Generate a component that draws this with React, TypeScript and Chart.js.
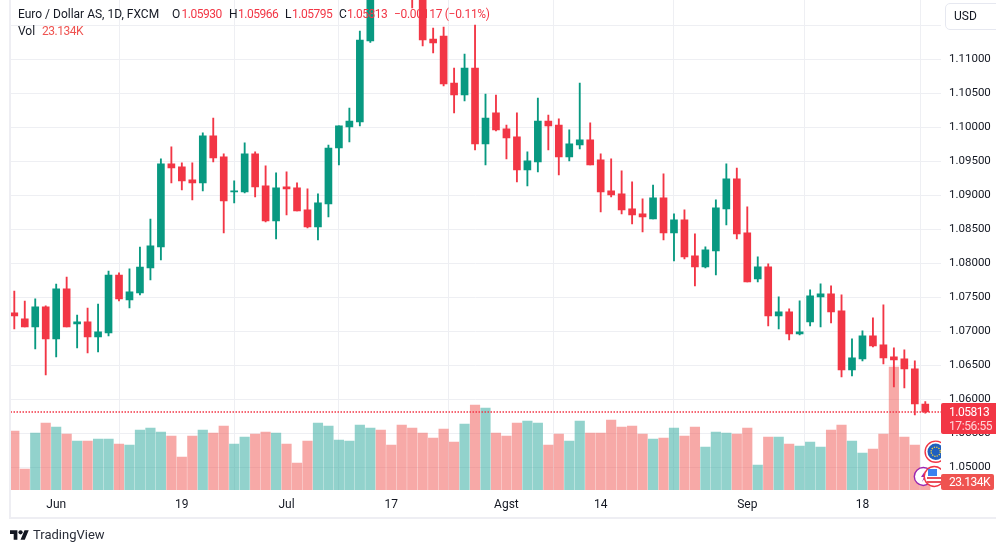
import { useEffect, useRef } from 'react';
import { Chart, registerables } from 'chart.js';

Chart.register(...registerables);

const UP = '#089981';
const DOWN = '#f23645';
const UP_VOL = 'rgba(38, 166, 154, 0.5)';
const DOWN_VOL = 'rgba(239, 83, 80, 0.5)';
const GRID = '#eeeff3';
const FRAME = '#eeeef3';
const TEXT = '#131722';
const FONT = 'Roboto, sans-serif';

// daily candles, Jun - Sep. the ones around index 35-38 are above the visible range
const opens = [
  1.0727, 1.07182, 1.07064, 1.07358, 1.06888, 1.07623, 1.07108, 1.07138, 1.06917, 1.06976,
  1.07828, 1.07461, 1.07564, 1.07931, 1.0824, 1.09461, 1.09417, 1.09226, 1.09182, 1.09873,
  1.09564, 1.0905, 1.0905, 1.09608, 1.09138, 1.08623, 1.09123, 1.09108, 1.08785, 1.08535,
  1.08873, 1.09696, 1.10005, 1.10079, 1.11269, 1.1228, 1.1226, 1.1224, 1.1205, 1.119,
  1.11299, 1.11343, 1.10652, 1.10475, 1.10872, 1.09755, 1.10211, 1.09976, 1.09858, 1.09373,
  1.09491, 1.10093, 1.10034, 1.09564, 1.0974, 1.09814, 1.0952, 1.09064, 1.0902, 1.088,
  1.08726, 1.08653, 1.08961, 1.08447, 1.08638, 1.08109, 1.07947, 1.08182, 1.088, 1.09241,
  1.08447, 1.07771, 1.07947, 1.07227, 1.07286, 1.06962, 1.07139, 1.07506, 1.0755, 1.073,
  1.06433, 1.06595, 1.06933, 1.068, 1.06624, 1.06595, 1.06448, 1.0593,
];
const highs = [
  1.07593, 1.07446, 1.07476, 1.07373, 1.07696, 1.07799, 1.0724, 1.07343, 1.07402, 1.07887,
  1.07858, 1.07917, 1.0824, 1.08652, 1.09535, 1.09711, 1.09476, 1.09476, 1.09917, 1.10137,
  1.09608, 1.09211, 1.0977, 1.09638, 1.09432, 1.09329, 1.09344, 1.09182, 1.09094, 1.0902,
  1.0974, 1.1002, 1.10284, 1.11416, 1.1245, 1.1245, 1.1244, 1.124, 1.1215, 1.12,
  1.1146, 1.11475, 1.10872, 1.11078, 1.11504, 1.1049, 1.10475, 1.10034, 1.10211, 1.09638,
  1.10431, 1.10181, 1.10123, 1.09961, 1.10652, 1.10064, 1.09608, 1.09535, 1.09358, 1.09197,
  1.08947, 1.09152, 1.09314, 1.08726, 1.08785, 1.08432, 1.08241, 1.08932, 1.09461, 1.09402,
  1.08829, 1.08094, 1.07991, 1.07506, 1.0733, 1.07447, 1.07609, 1.07697, 1.07668, 1.07535,
  1.06889, 1.07006, 1.07197, 1.07388, 1.06756, 1.06727, 1.06565, 1.05966,
];
const lows = [
  1.07035, 1.07064, 1.06741, 1.06358, 1.06623, 1.07064, 1.06755, 1.06682, 1.06697, 1.06932,
  1.07446, 1.07343, 1.07534, 1.07755, 1.08049, 1.09182, 1.09079, 1.08932, 1.09064, 1.09491,
  1.08447, 1.08888, 1.09035, 1.08976, 1.08609, 1.08359, 1.08711, 1.0877, 1.0852, 1.08344,
  1.08682, 1.09446, 1.09785, 1.1002, 1.1125, 1.1205, 1.121, 1.119, 1.11754, 1.11196,
  1.11093, 1.10608, 1.10211, 1.10387, 1.09667, 1.09446, 1.09946, 1.09535, 1.09197, 1.09138,
  1.09344, 1.09667, 1.09299, 1.09505, 1.09682, 1.09446, 1.08756, 1.08976, 1.08726, 1.08579,
  1.08462, 1.08653, 1.08344, 1.08035, 1.08065, 1.07668, 1.07932, 1.07829, 1.08564, 1.08359,
  1.07727, 1.07727, 1.0708, 1.07036, 1.06874, 1.06947, 1.0708, 1.07065, 1.07124, 1.0633,
  1.06345, 1.06565, 1.06771, 1.06521, 1.06183, 1.06168, 1.05771, 1.05795,
];
const closes = [
  1.07226, 1.07064, 1.07358, 1.06888, 1.07623, 1.07064, 1.07138, 1.06917, 1.06991, 1.07828,
  1.07476, 1.07579, 1.07946, 1.08255, 1.09461, 1.09402, 1.09211, 1.09182, 1.09873, 1.09549,
  1.08917, 1.09064, 1.09608, 1.09123, 1.08623, 1.09108, 1.09094, 1.0877, 1.08535, 1.08888,
  1.09696, 1.1002, 1.10093, 1.11284, 1.1228, 1.1225, 1.1223, 1.12, 1.119, 1.11284,
  1.1124, 1.10637, 1.10475, 1.10872, 1.09755, 1.10137, 1.09961, 1.09843, 1.09373, 1.09505,
  1.10093, 1.1002, 1.09564, 1.09755, 1.09814, 1.09446, 1.0905, 1.09005, 1.08785, 1.08711,
  1.08682, 1.08961, 1.08447, 1.08638, 1.08094, 1.07947, 1.08197, 1.08814, 1.09241, 1.08432,
  1.07727, 1.07947, 1.07227, 1.07286, 1.06962, 1.06992, 1.07521, 1.0755, 1.07286, 1.06433,
  1.06609, 1.06933, 1.06786, 1.06609, 1.0658, 1.06448, 1.05933, 1.05813,
];
// volume in thousands
const volumes = [
  170.6, 60.7, 164.8, 193.8, 182.2, 162, 141.7, 141.7, 147.5, 147.5,
  133, 130.1, 173.5, 179.3, 167.7, 156.2, 95.4, 156.2, 173.5, 164.8,
  185.1, 133, 153.3, 162, 167.7, 164.8, 133, 78.1, 141.7, 193.8,
  185.1, 144.6, 141.7, 188, 179.3, 173.5, 130.1, 188, 179.3, 164.8,
  150.4, 176.4, 138.8, 190.9, 245.8, 237.1, 164.8, 156.2, 193.8, 199.5,
  193.8, 130.1, 162, 141.7, 199.5, 164.8, 164.8, 202.4, 182.2, 185.1,
  162, 147.5, 150.4, 179.3, 156.2, 182.2, 124.4, 167.7, 164.8, 162,
  179.3, 72.3, 153.3, 153.3, 133, 127.2, 138.8, 124.4, 173.5, 188,
  141.7, 107, 118.6, 162, 355.7, 153.3, 130.1, 23.134,
];

const timeTicks = [4, 16, 26, 36, 47, 56, 70, 81];
const timeLabels = ['Jun', '19', 'Jul', '17', 'Agst', '14', 'Sep', '18'];
const priceTicks = [1.05, 1.055, 1.06, 1.065, 1.07, 1.075, 1.08, 1.085, 1.09, 1.095, 1.1, 1.105, 1.11, 1.115];
const lastPrice = 1.05813;

const X_MIN = -0.363;
const X_MAX = 88.5;

function Txt({ x, y, color = TEXT, size = 12, spacing = 0, children }: any) {
  return (
    <span style={{ position: 'absolute', left: x, top: y, color, fontSize: size, letterSpacing: spacing, lineHeight: '16px', whiteSpace: 'nowrap' }}>
      {children}
    </span>
  );
}

export default function App() {
  const chartRef = useRef<HTMLCanvasElement>(null);

  useEffect(() => {
    if (!chartRef.current) return;
    document.body.style.margin = '0';

    const isUp = closes.map((c, i) => c >= opens[i]);
    const candleColors = isUp.map(u => (u ? UP : DOWN));

    const chart = new Chart(chartRef.current, {
      data: {
        datasets: [
          {
            type: 'line',
            data: [{ x: X_MIN, y: lastPrice }, { x: X_MAX, y: lastPrice }],
            borderColor: DOWN,
            borderWidth: 1.3,
            borderDash: [1.5, 1.5],
            pointRadius: 0,
            yAxisID: 'y',
            order: 0,
          },
          {
            type: 'bar',
            data: closes.map((c, i) => ({ x: i, y: [Math.min(opens[i], c), Math.max(opens[i], c)] })),
            backgroundColor: candleColors,
            barThickness: 7,
            grouped: false,
            yAxisID: 'y',
            order: 1,
          },
          {
            type: 'bar',
            data: lows.map((l, i) => ({ x: i, y: [l, highs[i]] })),
            backgroundColor: candleColors,
            barThickness: 1.2,
            grouped: false,
            yAxisID: 'y',
            order: 2,
          },
          {
            type: 'bar',
            data: volumes.map((v, i) => ({ x: i, y: v })),
            backgroundColor: isUp.map(u => (u ? UP_VOL : DOWN_VOL)),
            barThickness: 9.5,
            grouped: false,
            yAxisID: 'vol',
            order: 3,
          },
        ],
      } as any,
      options: {
        responsive: false,
        animation: false,
        events: [],
        layout: { padding: { left: 10.5, right: 0, top: 0, bottom: 0 } },
        plugins: { legend: { display: false }, tooltip: { enabled: false } },
        scales: {
          x: {
            type: 'linear',
            offset: false,
            min: X_MIN,
            max: X_MAX,
            afterBuildTicks: (axis: any) => {
              axis.ticks = timeTicks.map(value => ({ value }));
            },
            afterFit: (axis: any) => {
              axis.height = 63;
              axis.paddingLeft = 0;
              axis.paddingRight = 0;
            },
            ticks: {
              autoSkip: false,
              maxRotation: 0,
              color: TEXT,
              padding: 8,
              font: { family: FONT, size: 12 },
              callback: (value: any) => timeLabels[timeTicks.indexOf(value)],
            },
            grid: { color: GRID, drawTicks: false, lineWidth: 1 },
            border: { display: false },
          },
          y: {
            type: 'linear',
            position: 'right',
            min: 1.04666,
            max: 1.11872,
            afterBuildTicks: (axis: any) => {
              axis.ticks = priceTicks.map(value => ({ value }));
            },
            afterFit: (axis: any) => {
              axis.width = 55;
              axis.paddingTop = 0;
              axis.paddingBottom = 0;
            },
            ticks: {
              color: TEXT,
              padding: 8,
              font: { family: FONT, size: 11.5 },
              callback: (value: any) => Number(value).toFixed(5),
            },
            grid: { color: GRID, drawTicks: false, lineWidth: 1 },
            border: { display: false },
          },
          vol: {
            type: 'linear',
            display: false,
            min: 0,
            max: 1417,
          },
        },
      } as any,
    });

    return () => {
      chart.destroy();
    };
  }, []);

  return (
    <div style={{ position: 'relative', width: 996, height: 553, overflow: 'hidden', fontFamily: FONT, background: '#fff' }}>
      <canvas ref={chartRef} width={996} height={553} style={{ display: 'block' }} />

      {/* frame */}
      <div style={{ position: 'absolute', left: 9, top: 0, width: 987, height: 517, borderLeft: `2px solid ${FRAME}`, borderBottom: `2px solid ${FRAME}`, pointerEvents: 'none' }} />

      {/* legend */}
      <Txt x={18} y={6}>Euro / Dollar AS, 1D, FXCM</Txt>
      <Txt x={172} y={6}>O</Txt>
      <Txt x={181.5} y={6} color={DOWN} spacing={-0.5}>1.05930</Txt>
      <Txt x={229} y={6}>H</Txt>
      <Txt x={238} y={6} color={DOWN} spacing={-0.5}>1.05966</Txt>
      <Txt x={285} y={6}>L</Txt>
      <Txt x={292} y={6} color={DOWN} spacing={-0.5}>1.05795</Txt>
      <Txt x={339} y={6}>C</Txt>
      <Txt x={347} y={6} color={DOWN} spacing={-0.5}>1.05813</Txt>
      <Txt x={394} y={6} color={DOWN} spacing={-0.3}>−0.00117 (−0.11%)</Txt>
      <Txt x={18} y={23}>Vol</Txt>
      <Txt x={42} y={23} color="#ef5350" spacing={-0.5}>23.134K</Txt>

      {/* currency button */}
      <div style={{ position: 'absolute', left: 945, top: 3, width: 60, height: 25, border: '1px solid #e6e8f0', borderRadius: 5, background: '#fff' }} />
      <Txt x={954} y={8} size={12}>USD</Txt>

      {/* event icons */}
      <svg width={36} height={50} viewBox="905 440 36 50" style={{ position: 'absolute', left: 905, top: 440 }}>
        <circle cx={923.3} cy={476.5} r={9} fill="#fff" stroke="#9c27b0" strokeWidth={1.4} />
        <path d="M925 471l-4 6h3l-2 5 5-7h-3z" fill="#9c27b0" />
        <circle cx={935.7} cy={451.7} r={10.6} fill="#fff" stroke={DOWN} strokeWidth={1.4} />
        <circle cx={935.7} cy={451.7} r={8.2} fill="#1f5fbf" />
        <circle cx={935.7} cy={451.7} r={4.6} fill="none" stroke="#f5d442" strokeWidth={1.3} strokeDasharray="1.3 1.1" />
        <circle cx={934.3} cy={476.5} r={10} fill="#fff" stroke={DOWN} strokeWidth={1.4} />
        <circle cx={934.3} cy={476.5} r={7.8} fill="#fff" />
        <rect x={927} y={477} width={15} height={2} fill="#e8505b" />
        <rect x={927} y={481} width={15} height={2} fill="#e8505b" />
        <rect x={928} y={469} width={9} height={7} fill="#3b82f0" />
      </svg>

      {/* price and volume labels */}
      <div style={{ position: 'absolute', left: 941, top: 403, width: 55, height: 31, background: DOWN, borderRadius: '2px 0 0 2px' }} />
      <Txt x={949} y={404} color="#fff" spacing={-0.5}>1.05813</Txt>
      <Txt x={949} y={418} color="#fdd5d8" spacing={-0.4}>17:56:55</Txt>
      <div style={{ position: 'absolute', left: 941, top: 474, width: 53, height: 16, background: '#ef5350', borderRadius: 2 }} />
      <Txt x={949} y={474} color="#fff" spacing={-0.5}>23.134K</Txt>

      {/* logo */}
      <svg width={19} height={10} viewBox="0 4 36 18" style={{ position: 'absolute', left: 10, top: 530 }}>
        <path d="M14 22H7V11H0V4h14v18zM28 22h-8l7.5-18h8L28 22z" fill="#131722" />
        <circle cx={20} cy={8} r={4} fill="#131722" />
      </svg>
      <Txt x={33} y={527} size={13} color="#2a2e39">TradingView</Txt>
    </div>
  );
}
